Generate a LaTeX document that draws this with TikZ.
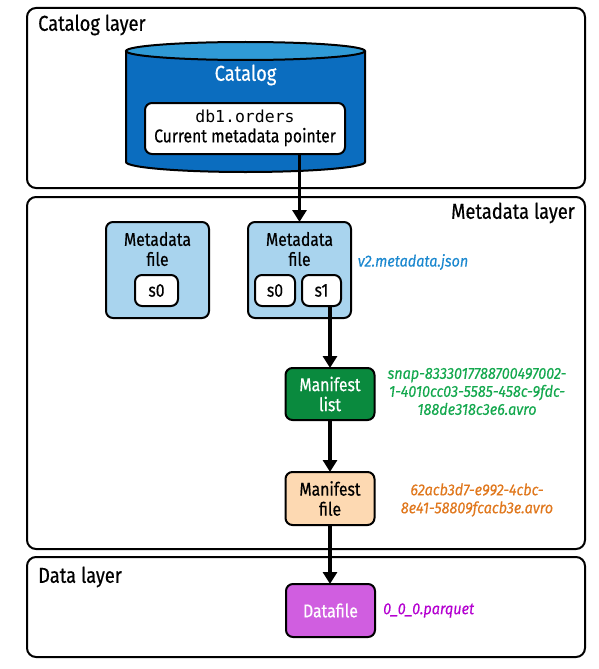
\documentclass[tikz,border=0pt]{standalone}
\usepackage{fontspec}
\setmainfont{Fira Sans}[FakeStretch=0.85, FakeBold=0.5]
\newfontfamily\labelfont{Fira Sans}[FakeStretch=0.9, FakeBold=0.3]
\setmonofont{DejaVu Sans Mono}
\usetikzlibrary{arrows.meta}
\definecolor{catdark}{HTML}{0B6DBF}
\definecolor{cattop}{HTML}{2F9AD6}
\definecolor{metafill}{HTML}{A9D4EE}
\definecolor{mlistfill}{HTML}{0A8A3E}
\definecolor{mfilefill}{HTML}{FDD9B2}
\definecolor{datafill}{HTML}{D05EE0}
\definecolor{lblue}{HTML}{1B88CF}
\definecolor{lgreen}{HTML}{14A84E}
\definecolor{lorange}{HTML}{E0781E}
\definecolor{lpurple}{HTML}{B400D0}
\begin{document}
\begin{tikzpicture}[x=1pt,y=-1pt,
  layerbox/.style={draw=black, line width=2pt, rounded corners=9pt, inner sep=0pt, outer sep=0pt},
  layertitle/.style={font=\fontsize{21.5}{24}\selectfont, text=black, inner sep=0pt},
  filebox/.style={draw=black, line width=2pt, rounded corners=7pt, inner sep=0pt, outer sep=0pt},
  snapbox/.style={filebox, fill=white, font=\fontsize{18.5}{20}\selectfont},
  boxtext/.style={font=\fontsize{18.5}{20}\selectfont, align=center, inner sep=0pt},
  pathlabel/.style={font=\labelfont\itshape\fontsize{16}{18}\selectfont, align=center, inner sep=0pt},
  flow/.style={line width=3.2pt, -{Triangle[length=12pt,width=14pt]}}
]
\useasboundingbox (0,0) rectangle (599,669);

% layers
\node[layerbox, minimum width=558pt, minimum height=180pt] (catlayer) at (306,98) {};
\node[layerbox, minimum width=558pt, minimum height=352pt] (metalayer) at (306,373) {};
\node[layerbox, minimum width=558pt, minimum height=100pt] (datalayer) at (306,607) {};
\node[layertitle, anchor=west] (catlabel) at (38,25) {Catalog layer};
\node[layertitle, anchor=east] (metalabel) at (575,213) {Metadata layer};
\node[layertitle, anchor=west] (datalabel) at (38,577) {Data layer};

% catalog cylinder
\fill[catdark] (126,51) -- (126,162)
  arc[start angle=180, end angle=360, x radius=119.5pt, y radius=10pt] -- (365,51) -- cycle;
\filldraw[fill=cattop, draw=black, line width=2pt] (245.5,51) ellipse[x radius=119.5pt, y radius=9pt];
\draw[black, line width=2pt] (126,51) -- (126,162)
  arc[start angle=180, end angle=360, x radius=119.5pt, y radius=10pt] -- (365,51);
\node[font=\fontsize{21.5}{24}\selectfont, text=white, inner sep=0pt] (catname) at (245.5,75) {Catalog};
\node[filebox, fill=white, minimum width=200pt, minimum height=51pt] (ptr) at (245,128.5) {};
\node[boxtext] (ptrtext) at (245,128) {{\ttfamily\fontsize{16.5}{20}\selectfont db1.orders}\\Current metadata pointer};

% metadata files
\node[filebox, fill=metafill, minimum width=103pt, minimum height=96pt] (meta1) at (157.5,270) {};
\node[boxtext] (meta1text) at (157.5,249) {Metadata\\file};
\node[snapbox, minimum width=43pt, minimum height=31pt] (s0a) at (156.5,290.5) {s0};
\node[filebox, fill=metafill, minimum width=103pt, minimum height=96pt] (meta2) at (299.5,270) {};
\node[boxtext] (meta2text) at (299.5,249) {Metadata\\file};
\node[snapbox, minimum width=40pt, minimum height=31pt] (s0b) at (275,290.5) {s0};
\node[snapbox, minimum width=39pt, minimum height=31pt] (s1) at (321.5,290.5) {s1};
\node[pathlabel, text=lblue] (metaname) at (413,262) {v2.metadata.json};

% manifests
\node[filebox, fill=mlistfill, minimum width=89pt, minimum height=52pt, boxtext, text=white] (mlist) at (330,394) {Manifest\\list};
\node[pathlabel, text=lgreen] (mlistname) at (477,391.5) {snap-8333017788700497002-\\1-4010cc03-5585-458c-9fdc-\\188de318c3e6.avro};
\node[filebox, fill=mfilefill, minimum width=89pt, minimum height=53pt, boxtext] (mfile) at (330,498.5) {Manifest\\file};
\node[pathlabel, text=lorange] (mfilename) at (477,500) {62acb3d7-e992-4cbc-\\8e41-58809fcacb3e.avro};

% data file
\node[filebox, fill=datafill, minimum width=89pt, minimum height=53pt, boxtext, text=white] (data) at (330.5,610.5) {Datafile};
\node[pathlabel, text=lpurple, anchor=west] (dataname) at (383,610.5) {0\_0\_0.parquet};

% connectors
\draw[flow] (meta2.north |- ptr.south) -- (meta2.north);
\draw[flow] (mlist.north |- s1.south) -- (mlist.north);
\draw[flow] (mlist.south) -- (mfile.north);
\draw[flow] (mfile.south) -- (data.north -| mfile.south);
\end{tikzpicture}
\end{document}
